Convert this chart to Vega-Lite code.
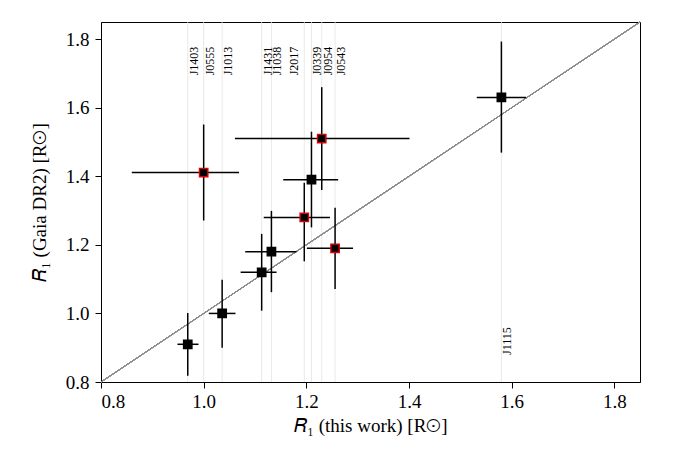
{
  "$schema": "https://vega.github.io/schema/vega-lite/v6.json",
  "width": 539,
  "height": 360,
  "autosize": {"type": "none"},
  "padding": {"left": 101, "top": 22, "right": 35, "bottom": 68},
  "background": "white",
  "config": {
    "view": {"stroke": "black", "strokeWidth": 1},
    "font": "Liberation Serif"
  },
  "data": {
    "values": [
      {"name": "J1403", "x": 0.969, "xlo": 0.949, "xhi": 0.990, "y": 0.910, "ylo": 0.818, "yhi": 1.001, "flag": "no"},
      {"name": "J0555", "x": 1.000, "xlo": 0.860, "xhi": 1.069, "y": 1.411, "ylo": 1.271, "yhi": 1.551, "flag": "yes"},
      {"name": "J1013", "x": 1.036, "xlo": 1.010, "xhi": 1.062, "y": 1.000, "ylo": 0.900, "yhi": 1.098, "flag": "no"},
      {"name": "J1431", "x": 1.113, "xlo": 1.072, "xhi": 1.142, "y": 1.120, "ylo": 1.008, "yhi": 1.232, "flag": "no"},
      {"name": "J1038", "x": 1.132, "xlo": 1.081, "xhi": 1.181, "y": 1.180, "ylo": 1.062, "yhi": 1.299, "flag": "no"},
      {"name": "J2017", "x": 1.196, "xlo": 1.117, "xhi": 1.246, "y": 1.280, "ylo": 1.152, "yhi": 1.381, "flag": "yes"},
      {"name": "J0339", "x": 1.210, "xlo": 1.155, "xhi": 1.262, "y": 1.390, "ylo": 1.251, "yhi": 1.530, "flag": "no"},
      {"name": "J0954", "x": 1.230, "xlo": 1.061, "xhi": 1.401, "y": 1.510, "ylo": 1.360, "yhi": 1.660, "flag": "yes"},
      {"name": "J0543", "x": 1.256, "xlo": 1.201, "xhi": 1.291, "y": 1.190, "ylo": 1.071, "yhi": 1.308, "flag": "yes"},
      {"name": "J1115", "x": 1.580, "xlo": 1.532, "xhi": 1.628, "y": 1.630, "ylo": 1.469, "yhi": 1.793, "flag": "no"}
    ]
  },
  "encoding": {
    "x": {
      "type": "quantitative",
      "scale": {"domain": [0.8, 1.85], "nice": false, "zero": false},
      "axis": {
        "values": [0.8, 1.0, 1.2, 1.4, 1.6, 1.8], "format": ".1f", "grid": false,
        "domainColor": "black", "tickColor": "black", "tickSize": 6, "tickWidth": 1,
        "labelFont": "Liberation Serif", "labelFontSize": 19, "labelColor": "black", "labelPadding": 4,
        "title": "𝑅₁ (this work) [R⊙]", "titleFont": "Liberation Serif", "titleFontSize": 19,
        "titleFontWeight": "normal", "titleColor": "black", "titlePadding": 5
      }
    },
    "y": {
      "type": "quantitative",
      "scale": {"domain": [0.8, 1.85], "nice": false, "zero": false},
      "axis": {
        "values": [0.8, 1.0, 1.2, 1.4, 1.6, 1.8], "format": ".1f", "grid": false,
        "domainColor": "black", "tickColor": "black", "tickSize": 6, "tickWidth": 1,
        "labelFont": "Liberation Serif", "labelFontSize": 19, "labelColor": "black", "labelPadding": 6,
        "title": "𝑅₁ (Gaia DR2) [R⊙]", "titleFont": "Liberation Serif", "titleFontSize": 19,
        "titleFontWeight": "normal", "titleColor": "black", "titlePadding": 16
      }
    }
  },
  "layer": [
    {
      "mark": {"type": "rule", "color": "#e3e3e3", "strokeWidth": 0.8},
      "encoding": {
        "x": {"field": "x"},
        "y": {"datum": 0.8},
        "y2": {"datum": 1.85}
      }
    },
    {
      "mark": {"type": "rule", "color": "#8c8c8c", "strokeWidth": 0.9},
      "encoding": {
        "x": {"datum": 0.8},
        "y": {"datum": 0.8},
        "x2": {"datum": 1.85},
        "y2": {"datum": 1.85}
      }
    },
    {
      "mark": {"type": "rule", "color": "black", "strokeWidth": 1.5},
      "encoding": {
        "x": {"field": "xlo"},
        "x2": {"field": "xhi"},
        "y": {"field": "y"}
      }
    },
    {
      "mark": {"type": "rule", "color": "black", "strokeWidth": 1.5},
      "encoding": {
        "x": {"field": "x"},
        "y": {"field": "ylo"},
        "y2": {"field": "yhi"}
      }
    },
    {
      "mark": {"type": "point", "shape": "square", "filled": true, "fill": "black", "size": 70, "strokeWidth": 1.4, "opacity": 1},
      "encoding": {
        "x": {"field": "x"},
        "y": {"field": "y"},
        "stroke": {
          "field": "flag",
          "type": "nominal",
          "scale": {"domain": ["yes", "no"], "range": ["#e00000", "black"]},
          "legend": null
        }
      }
    },
    {
      "transform": [{"filter": "datum.name !== 'J1115' && datum.name !== 'J2017'"}],
      "mark": {"type": "text", "angle": 270, "align": "right", "baseline": "top", "fontSize": 12, "font": "Liberation Serif", "color": "black", "dy": 1},
      "encoding": {
        "x": {"field": "x"},
        "y": {"datum": 1.778},
        "text": {"field": "name"}
      }
    },
    {
      "transform": [{"filter": "datum.name === 'J2017'"}],
      "mark": {"type": "text", "angle": 270, "align": "right", "baseline": "bottom", "fontSize": 12, "font": "Liberation Serif", "color": "black", "dy": -3},
      "encoding": {
        "x": {"field": "x"},
        "y": {"datum": 1.778},
        "text": {"field": "name"}
      }
    },
    {
      "transform": [{"filter": "datum.name === 'J1115'"}],
      "mark": {"type": "text", "angle": 270, "align": "left", "baseline": "top", "fontSize": 12, "font": "Liberation Serif", "color": "black", "dy": 1},
      "encoding": {
        "x": {"field": "x"},
        "y": {"datum": 0.879},
        "text": {"field": "name"}
      }
    }
  ]
}
